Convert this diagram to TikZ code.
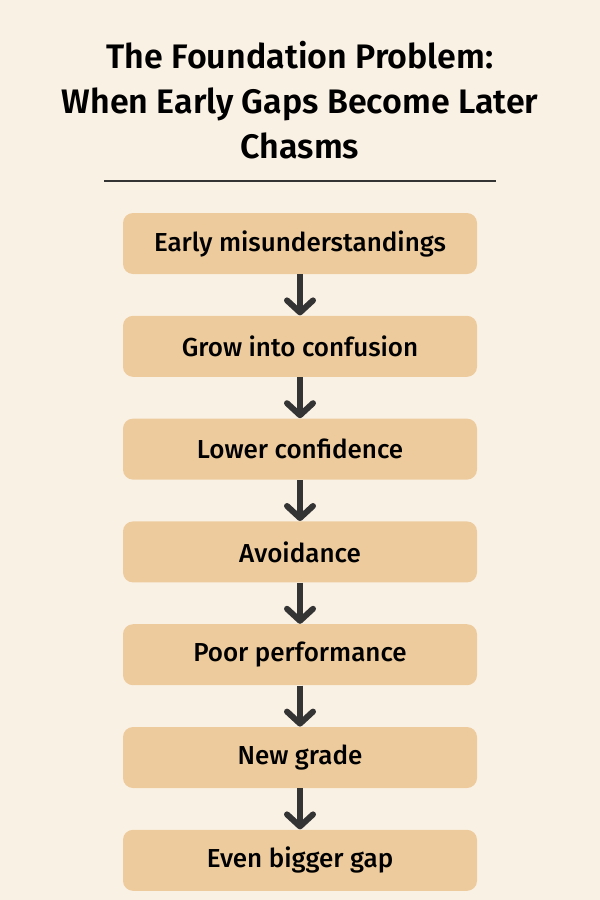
\documentclass[tikz,border=0pt]{standalone}
\usepackage{fontspec}
\setmainfont{Fira Sans}[UprightFont=* Medium, BoldFont=* SemiBold]
\usetikzlibrary{arrows.meta, positioning}
\definecolor{paper}{RGB}{250,241,229}
\definecolor{sand}{RGB}{237,203,157}
\definecolor{ink}{RGB}{52,52,52}

\begin{document}
\begin{tikzpicture}[node distance=20.5pt,
 stage node/.style={rectangle,rounded corners=5pt,fill=sand,
  minimum width=177pt,minimum height=30.5pt,
  font=\fontsize{13pt}{15pt}\selectfont},
 flow/.style={draw=ink,line width=3pt,-{Straight Barb[length=6pt,width=13pt,round]}}]

  \fill[paper] (0,0) rectangle (300pt,-450pt);
  \useasboundingbox (0,0) rectangle (300pt,-450pt);

  \node[align=center,font=\bfseries\fontsize{17pt}{22.5pt}\selectfont] (title) at (150pt,-50pt)
   {The Foundation Problem:\\When Early Gaps Become Later\\Chasms};
  \coordinate (rule left) at (52pt,-90.5pt);
  \coordinate (rule right) at (248pt,-90.5pt);
  \draw[ink,line width=1pt] (rule left) -- (rule right);

  \node[stage node] (early) at (150pt,-121.75pt) {Early misunderstandings};
  \node[stage node] (confusion) [below=of early] {Grow into confusion};
  \node[stage node] (confidence) [below=of confusion] {Lower confidence};
  \node[stage node] (avoidance) [below=of confidence] {Avoidance};
  \node[stage node] (performance) [below=of avoidance] {Poor performance};
  \node[stage node] (grade) [below=of performance] {New grade};
  \node[stage node] (gap) [below=of grade] {Even bigger gap};

  \foreach \s/\t in {early/confusion, confusion/confidence, confidence/avoidance,
   avoidance/performance, performance/grade, grade/gap} {
   \draw[flow] (\s) -- (\t);}
\end{tikzpicture}
\end{document}
